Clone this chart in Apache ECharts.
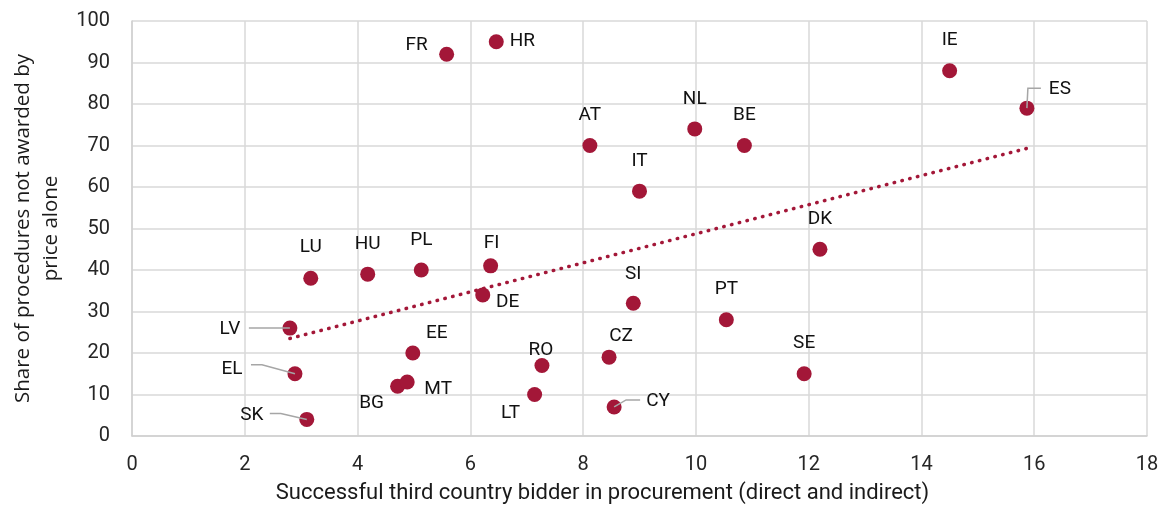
<!DOCTYPE html>
<html>
<head>
<meta charset="utf-8">
<script src="https://cdn.jsdelivr.net/npm/echarts@6/dist/echarts.min.js"></script>
<style>
html,body{margin:0;padding:0;background:#fff;}
#chart{width:1168px;height:509px;}
</style>
</head>
<body>
<div id="chart"></div>
<script>
// ---- data ----
const countries = ['FR','HR','AT','NL','BE','IT','IE','ES','LU','HU','PL','FI','DE','SI','DK','PT','LV','EE','CZ','RO','SE','EL','BG','MT','LT','CY','SK'];
const thirdCountryBidder = [5.58,6.46,8.12,9.98,10.86,9.0,14.5,15.87,3.17,4.18,5.13,6.36,6.22,8.89,12.2,10.54,2.8,4.98,8.46,7.27,11.92,2.89,4.71,4.88,7.14,8.55,3.1];
const notPriceAlone = [92,95,70,74,70,59,88,79,38,39,40,41,34,32,45,28,26,20,19,17,15,15,12,13,10,7,4];
const trendX = [2.8, 15.87];
const trendY = [23.5, 69.3];
const xTickValues = [0,2,4,6,8,10,12,14,16,18];
const yTickValues = [0,10,20,30,40,50,60,70,80,90,100];

// ---- label placement (pixel offsets of label centre from marker centre) ----
const labelOffset = {
  FR:[-30,-9], HR:[26,-1], AT:[0,-30], NL:[0,-30], BE:[0,-30], IT:[0,-30], IE:[0,-31],
  ES:[33,-19], LU:[0,-31], HU:[0,-30], PL:[0,-30], FI:[1,-23], DE:[25,7], SI:[0,-29],
  DK:[0,-30], PT:[0,-31], LV:[-60,1], EE:[24,-20], CZ:[12,-21], RO:[-1,-15], SE:[0,-31],
  EL:[-63,-5], BG:[-26,17], MT:[31,7], LT:[-24,19], CY:[44,-6], SK:[-55,-4]
};
const leaderLines = {
  LV:[[-41,0],[0,0]],
  EL:[[-44,-9],[-33,-9],[0,0]],
  SK:[[-37,-6],[-26,-6],[0,0]],
  ES:[[0,0],[1,-20],[14,-20]],
  CY:[[0,0],[12,-7],[26,-7]]
};

const RED = '#A31738';
const scatterData = countries.map((c, i) => ({
  value: [thirdCountryBidder[i], notPriceAlone[i]],
  name: c,
  label: { offset: labelOffset[c] }
}));
const leaderData = countries.map((c, i) => [thirdCountryBidder[i], notPriceAlone[i], i]).filter(d => leaderLines[countries[d[2]]]);

const chart = echarts.init(document.getElementById('chart'), null, {renderer: 'canvas'});
const tickFont = { fontFamily: 'Roboto', fontSize: 20, color: '#262626' };
chart.setOption({
  animation: false,
  backgroundColor: '#fff',
  grid: { left: 132, right: 21, top: 21, bottom: 73 },
  xAxis: {
    type: 'value', min: 0, max: 18, interval: 2,
    name: 'Successful third country bidder in procurement (direct and indirect)',
    nameLocation: 'middle', nameGap: 46,
    nameTextStyle: { fontFamily: 'Roboto', fontSize: 22, color: '#1a1a1a', padding: [0, 74, 0, 0] },
    axisLine: { lineStyle: { color: '#D0D0D0', width: 1.5 } },
    axisTick: { show: false },
    axisLabel: Object.assign({ margin: 19, formatter: v => xTickValues.includes(v) ? String(v) : '' }, tickFont),
    splitLine: { show: true, lineStyle: { color: '#D9D9D9', width: 1.5 } }
  },
  yAxis: {
    type: 'value', min: 0, max: 100, interval: 10,
    name: 'Share of procedures not awarded by\nprice alone',
    nameLocation: 'middle', nameGap: 63, nameRotate: 90,
    nameTextStyle: { fontFamily: 'Open Sans', fontSize: 20.5, color: '#1a1a1a', lineHeight: 28 },
    axisLine: { show: true, lineStyle: { color: '#D0D0D0', width: 1.5 } },
    axisTick: { show: false },
    axisLabel: Object.assign({ margin: 22, formatter: v => yTickValues.includes(v) ? String(v) : '' }, tickFont),
    splitLine: { show: true, lineStyle: { color: '#D9D9D9', width: 1.5 } }
  },
  series: [
    {
      type: 'line',
      data: trendX.map((x, i) => [x, trendY[i]]),
      showSymbol: false, symbol: 'none',
      lineStyle: { color: RED, width: 3.5, type: [0.5, 7.5], cap: 'round' },
      z: 2, silent: true
    },
    {
      type: 'scatter',
      data: scatterData,
      symbolSize: 15,
      itemStyle: { color: RED, opacity: 1 },
      label: {
        show: true, position: 'inside', formatter: p => p.name,
        fontFamily: 'Roboto', fontSize: 19, color: '#111'
      },
      z: 3
    },
    {
      type: 'custom',
      data: leaderData,
      z: 4, silent: true,
      renderItem: (params, api) => {
        const p = api.coord([api.value(0), api.value(1)]);
        const pts = leaderLines[countries[api.value(2)]].map(d => [p[0] + d[0], p[1] + d[1]]);
        return { type: 'polyline', shape: { points: pts }, style: { stroke: '#A6A6A6', lineWidth: 1.5, fill: null } };
      }
    }
  ]
});
</script>
</body>
</html>
